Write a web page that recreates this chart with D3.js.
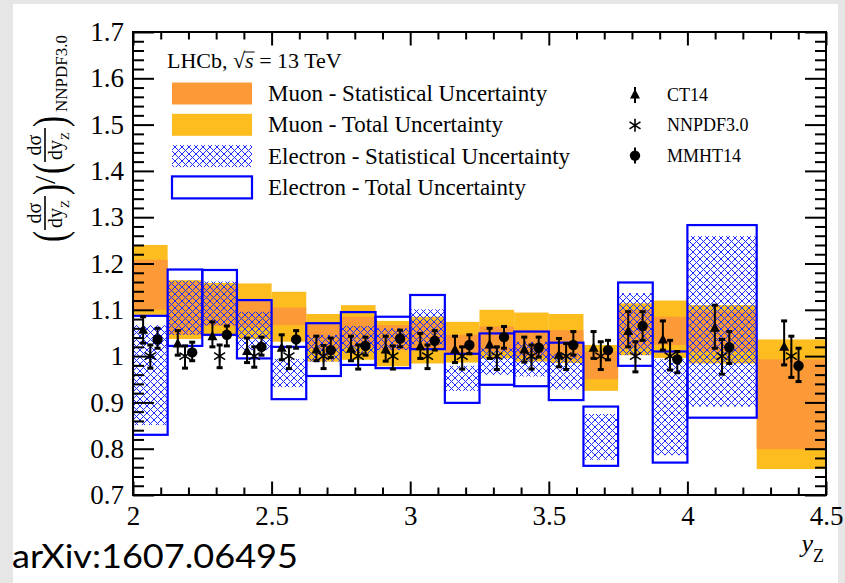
<!DOCTYPE html>
<html>
<head>
<meta charset="utf-8">
<script src="https://cdn.jsdelivr.net/npm/d3@7"></script>
<style>
  body { margin: 0; background: #e6e6e6; }
  svg { display: block; }
</style>
</head>
<body>
<svg id="chart" width="845" height="583"></svg>
<script>
// ---- data: rapidity bins and ratios to NNPDF3.0 ----
const binEdges = [2.0, 2.125, 2.25, 2.375, 2.5, 2.625, 2.75, 2.875, 3.0, 3.125,
                  3.25, 3.375, 3.5, 3.625, 3.75, 3.875, 4.0, 4.25, 4.5];

// muon channel (18 bins, 2.0 - 4.5)
const muonTotLo  = [1.089, 1.037, 1.043, 1.037, 1.031, 0.988, 0.992, 0.978, 0.984, 0.986, 0.995, 0.988, 0.985, 0.925, 1.002, 0.996, 0.984, 0.756];
const muonTotHi  = [1.240, 1.164, 1.158, 1.157, 1.139, 1.091, 1.110, 1.076, 1.085, 1.074, 1.100, 1.094, 1.091, 1.024, 1.114, 1.120, 1.110, 1.036];
const muonStatLo = [1.100, 1.046, 1.065, 1.062, 1.067, 1.015, 1.020, 1.013, 1.015, 1.006, 1.010, 0.999, 0.995, 0.950, 1.017, 1.024, 1.010, 0.799];
const muonStatHi = [1.208, 1.160, 1.152, 1.120, 1.105, 1.068, 1.085, 1.067, 1.075, 1.046, 1.064, 1.056, 1.056, 1.010, 1.100, 1.085, 1.098, 0.993];

// electron channel (17 bins, 2.0 - 4.25)
const eleTotLo  = [0.830, 1.022, 1.046, 0.995, 0.907, 0.957, 0.981, 0.974, 1.015, 0.899, 0.938, 0.935, 0.905, 0.763, 0.979, 0.770, 0.867];
const eleTotHi  = [1.087, 1.187, 1.186, 1.121, 1.020, 1.071, 1.095, 1.085, 1.132, 1.005, 1.049, 1.053, 1.029, 0.891, 1.159, 1.010, 1.283];
const eleStatLo = [0.851, 1.046, 1.066, 1.013, 0.933, 0.988, 1.006, 1.013, 1.025, 0.925, 0.959, 0.956, 0.928, 0.776, 1.002, 0.786, 0.891];
const eleStatHi = [1.067, 1.163, 1.161, 1.096, 0.994, 1.046, 1.065, 1.060, 1.101, 0.979, 1.017, 1.031, 1.006, 0.875, 1.136, 0.993, 1.259];

// theory predictions (18 bins)
const ct14Val  = [1.056, 1.026, 1.042, 1.010, 1.017, 1.013, 1.015, 1.013, 1.020, 1.013, 1.024, 1.013, 1.002, 1.017, 1.053, 1.035, 1.060, 1.019];
const ct14Lo   = [1.028, 1.002, 1.020, 0.986, 0.992, 0.990, 0.990, 0.989, 0.995, 0.986, 0.995, 0.987, 0.977, 0.995, 1.020, 1.013, 1.017, 0.981];
const ct14Hi   = [1.085, 1.055, 1.074, 1.039, 1.046, 1.043, 1.043, 1.043, 1.049, 1.043, 1.060, 1.041, 1.038, 1.053, 1.096, 1.076, 1.110, 1.076];
const nnpdfVal = [1, 1, 1, 1, 1, 1, 1, 1, 1, 1, 1, 1, 1, 1, 1, 1, 1, 1];
const nnpdfLo  = [0.974, 0.974, 0.975, 0.976, 0.973, 0.973, 0.972, 0.972, 0.973, 0.972, 0.971, 0.972, 0.971, 0.971, 0.966, 0.970, 0.961, 0.954];
const nnpdfHi  = [1.024, 1.022, 1.024, 1.020, 1.020, 1.023, 1.024, 1.022, 1.024, 1.020, 1.020, 1.024, 1.027, 1.031, 1.031, 1.034, 1.036, 1.043];
const mmhtVal  = [1.036, 1.008, 1.046, 1.020, 1.036, 1.013, 1.022, 1.038, 1.033, 1.024, 1.041, 1.018, 1.024, 1.013, 1.065, 0.993, 1.019, 0.979];
const mmhtLo   = [1.017, 0.990, 1.022, 1.002, 1.017, 0.997, 1.002, 1.020, 1.013, 1.005, 1.017, 0.998, 1.002, 0.992, 1.034, 0.964, 0.984, 0.945];
const mmhtHi   = [1.060, 1.030, 1.065, 1.041, 1.055, 1.039, 1.041, 1.056, 1.055, 1.046, 1.064, 1.041, 1.053, 1.034, 1.096, 1.010, 1.053, 1.017];

// axis ticks
const xMajorTicks = [2, 2.5, 3, 3.5, 4, 4.5];
const yMajorTicks = [0.7, 0.8, 0.9, 1.0, 1.1, 1.2, 1.3, 1.4, 1.5, 1.6, 1.7];

// ---- layout ----
const L = 133, R = 826, T = 32, B = 495;
const serif = "'Liberation Serif', 'Times New Roman', serif";
const muonTotColor = "#fdbd1f", muonStatColor = "#fb9a37", blue = "#0000ff";

const svg = d3.select("#chart");
svg.append("rect").attr("x", 13).attr("y", 4).attr("width", 825).attr("height", 579).attr("fill", "#fff");

const x = d3.scaleLinear().domain([2, 4.5]).range([L, R]);
const y = d3.scaleLinear().domain([0.7, 1.7]).range([B, T]);

// cross-hatch pattern for the electron statistical band
const defs = svg.append("defs");
const pat = defs.append("pattern").attr("id", "xhatch")
  .attr("patternUnits", "userSpaceOnUse").attr("width", 7).attr("height", 7);
pat.append("path").attr("d", "M-1,-1L8,8M8,-1L-1,8")
  .attr("stroke", "#1f2cff").attr("stroke-width", 1).attr("fill", "none");

const clip = defs.append("clipPath").attr("id", "plotclip");
clip.append("rect").attr("x", L).attr("y", T).attr("width", R - L).attr("height", B - T);

const plot = svg.append("g").attr("clip-path", "url(#plotclip)");

const muonBins = d3.range(muonTotLo.length);
const eleBins = d3.range(eleTotLo.length);

function band(g, bins, lo, hi, attrs) {
  const sel = g.selectAll(null).data(bins).join("rect")
    .attr("x", i => x(binEdges[i]))
    .attr("width", i => x(binEdges[i + 1]) - x(binEdges[i]))
    .attr("y", i => y(hi[i]))
    .attr("height", i => y(lo[i]) - y(hi[i]));
  Object.entries(attrs).forEach(([k, v]) => sel.attr(k, v));
  return sel;
}

band(plot, muonBins, muonTotLo, muonTotHi, { fill: muonTotColor });
band(plot, muonBins, muonStatLo, muonStatHi, { fill: muonStatColor });
band(plot, eleBins, eleStatLo, eleStatHi, { fill: "url(#xhatch)" });
band(plot, eleBins, eleTotLo, eleTotHi, { fill: "none", stroke: blue, "stroke-width": 2.2 });

// ---- theory predictions with error bars ----
const offset = 0.026;
const centre = i => (binEdges[i] + binEdges[i + 1]) / 2;

function markerPath(kind) {
  if (kind === "tri") return "M0,-6L5,3.5L-5,3.5Z";
  if (kind === "star") return "M0,-6.5L0,6.5M-5.5,-3.5L5.5,3.5M-5.5,3.5L5.5,-3.5";
  return null;
}

function drawMarker(g, kind, cx, cy) {
  if (kind === "circ") {
    g.append("circle").attr("cx", cx).attr("cy", cy).attr("r", 5.2).attr("fill", "#000");
  } else if (kind === "tri") {
    g.append("path").attr("d", markerPath(kind)).attr("transform", `translate(${cx},${cy})`).attr("fill", "#000");
  } else {
    g.append("path").attr("d", markerPath(kind)).attr("transform", `translate(${cx},${cy})`)
      .attr("stroke", "#000").attr("stroke-width", 1.6).attr("fill", "none");
  }
}

const theory = [
  { kind: "tri",  dx: -offset, val: ct14Val,  lo: ct14Lo,  hi: ct14Hi },
  { kind: "star", dx: 0,       val: nnpdfVal, lo: nnpdfLo, hi: nnpdfHi },
  { kind: "circ", dx: offset,  val: mmhtVal,  lo: mmhtLo,  hi: mmhtHi }
];

const tg = plot.append("g");
theory.forEach(s => {
  muonBins.forEach(i => {
    const cx = x(centre(i) + s.dx);
    const y1 = y(s.hi[i]), y0 = y(s.lo[i]);
    tg.append("line").attr("x1", cx).attr("x2", cx).attr("y1", y1).attr("y2", y0)
      .attr("stroke", "#000").attr("stroke-width", 2);
    [y1, y0].forEach(yy => tg.append("rect").attr("x", cx - 3).attr("y", yy - 1.5)
      .attr("width", 6).attr("height", 3).attr("fill", "#000"));
    drawMarker(tg, s.kind, cx, y(s.val[i]));
  });
});

// ---- axes (ticks on all four sides, pointing inward) ----
const fmt = d => String(+d.toFixed(2));
const xMinorTicks = d3.range(2, 4.5001, 0.1).map(v => +v.toFixed(2)).filter(v => !xMajorTicks.some(m => Math.abs(m - v) < 1e-6));
const yMinorTicks = d3.range(0.7, 1.7001, 0.02).map(v => +v.toFixed(2)).filter(v => !yMajorTicks.some(m => Math.abs(m - v) < 1e-6));

function styleAxis(g) {
  g.select(".domain").remove();
  g.selectAll(".tick line").attr("stroke", "#000").attr("stroke-width", 2);
  g.selectAll(".tick text").attr("font-family", serif).attr("font-size", 27).attr("fill", "#000");
}

svg.append("g").attr("transform", `translate(0,${B})`)
  .call(d3.axisBottom(x).tickValues(xMajorTicks).tickSize(-13.5).tickPadding(11).tickFormat(fmt)).call(styleAxis);
svg.append("g").attr("transform", `translate(0,${B})`)
  .call(d3.axisBottom(x).tickValues(xMinorTicks).tickSize(-7.5).tickFormat("")).call(styleAxis);
svg.append("g").attr("transform", `translate(0,${T})`)
  .call(d3.axisTop(x).tickValues(xMajorTicks).tickSize(-13.5).tickFormat("")).call(styleAxis);
svg.append("g").attr("transform", `translate(0,${T})`)
  .call(d3.axisTop(x).tickValues(xMinorTicks).tickSize(-7.5).tickFormat("")).call(styleAxis);

svg.append("g").attr("transform", `translate(${L},0)`)
  .call(d3.axisLeft(y).tickValues(yMajorTicks).tickSize(-21).tickPadding(9).tickFormat(fmt)).call(styleAxis);
svg.append("g").attr("transform", `translate(${L},0)`)
  .call(d3.axisLeft(y).tickValues(yMinorTicks).tickSize(-11).tickFormat("")).call(styleAxis);
svg.append("g").attr("transform", `translate(${R},0)`)
  .call(d3.axisRight(y).tickValues(yMajorTicks).tickSize(-21).tickFormat("")).call(styleAxis);
svg.append("g").attr("transform", `translate(${R},0)`)
  .call(d3.axisRight(y).tickValues(yMinorTicks).tickSize(-11).tickFormat("")).call(styleAxis);

svg.append("rect").attr("x", L).attr("y", T).attr("width", R - L).attr("height", B - T)
  .attr("fill", "none").attr("stroke", "#000").attr("stroke-width", 2);

// ---- y-axis title: (dσ/dy_Z)/(dσ/dy_Z)_NNPDF3.0 ----
const yt = svg.append("g").attr("transform", "translate(45,242) rotate(-90)")
  .attr("font-family", serif).attr("fill", "#000");

function paren(u, ch) {
  yt.append("text").attr("transform", `translate(${u},20) scale(0.72,1)`)
    .attr("font-size", 46).text(ch);
}
function frac(u0, w) {
  yt.append("line").attr("x1", u0).attr("x2", u0 + w).attr("y1", 0).attr("y2", 0)
    .attr("stroke", "#000").attr("stroke-width", 1.6);
  yt.append("text").attr("x", u0 + w / 2).attr("y", -4).attr("text-anchor", "middle")
    .attr("font-size", 20).text("dσ");
  const den = yt.append("text").attr("x", u0 + 2).attr("y", 17).attr("font-size", 20);
  den.append("tspan").text("dy");
  den.append("tspan").attr("dy", 7).attr("font-size", 13).text("Z");
}
paren(0, "(");
frac(12, 34);
paren(47, ")");
yt.append("text").attr("x", 58).attr("y", 10).attr("font-size", 30).text("/");
paren(68, "(");
frac(80, 34);
paren(115, ")");
yt.append("text").attr("x", 130).attr("y", 22).attr("font-size", 17).text("NNPDF3.0");

// ---- x-axis title ----
const xt = svg.append("text").attr("x", R - 2).attr("y", 552).attr("text-anchor", "end")
  .attr("font-family", serif).attr("fill", "#000");
xt.append("tspan").attr("font-style", "italic").attr("font-size", 26).text("y");
xt.append("tspan").attr("dy", 10).attr("font-size", 18).text("Z");

// ---- legend ----
const lhcb = svg.append("text").attr("x", 167).attr("y", 68)
  .attr("font-family", serif).attr("font-size", 22).attr("fill", "#000");
lhcb.append("tspan").text("LHCb, √");
lhcb.append("tspan").attr("font-style", "italic").text("s");
lhcb.append("tspan").text(" = 13 TeV");
// bar over the s of the square root
const sBox = lhcb.node().getExtentOfChar(7);
const rootBox = lhcb.node().getExtentOfChar(6);
svg.append("line").attr("x1", rootBox.x + rootBox.width - 1).attr("x2", sBox.x + sBox.width + 1)
  .attr("y1", sBox.y + 4).attr("y2", sBox.y + 4).attr("stroke", "#000").attr("stroke-width", 1);

const legendRows = [
  { label: "Muon - Statistical Uncertainty",     style: { fill: muonStatColor } },
  { label: "Muon - Total Uncertainty",           style: { fill: muonTotColor } },
  { label: "Electron - Statistical Uncertainty", style: { fill: "url(#xhatch)" } },
  { label: "Electron - Total Uncertainty",       style: { fill: "#fff", stroke: blue, "stroke-width": 2.2 } }
];
legendRows.forEach((row, k) => {
  const cy = 93.5 + 31.3 * k;
  const r = svg.append("rect").attr("x", 172).attr("y", cy - 11).attr("width", 80).attr("height", 22);
  Object.entries(row.style).forEach(([a, v]) => r.attr(a, v));
  svg.append("text").attr("x", 268).attr("y", cy + 7.5)
    .attr("font-family", serif).attr("font-size", 23).attr("fill", "#000").text(row.label);
});

const theoryLegend = [
  { kind: "tri",  label: "CT14",     bar: true },
  { kind: "star", label: "NNPDF3.0", bar: false },
  { kind: "circ", label: "MMHT14",   bar: true }
];
theoryLegend.forEach((row, k) => {
  const cy = 95 + 30.3 * k;
  if (row.bar) {
    svg.append("line").attr("x1", 635).attr("x2", 635).attr("y1", cy - 8).attr("y2", cy + 8)
      .attr("stroke", "#000").attr("stroke-width", 2);
  }
  drawMarker(svg, row.kind, 635, cy);
  svg.append("text").attr("x", 667).attr("y", cy + 6)
    .attr("font-family", serif).attr("font-size", 18).attr("fill", "#000").text(row.label);
});

// ---- reference tag ----
svg.append("text").attr("x", 12).attr("y", 568)
  .attr("font-family", "Lato, 'Open Sans', sans-serif").attr("font-size", 33).attr("font-weight", 400).attr("fill", "#000")
  .attr("textLength", 286).attr("lengthAdjust", "spacingAndGlyphs")
  .text("arXiv:1607.06495");
</script>
</body>
</html>
